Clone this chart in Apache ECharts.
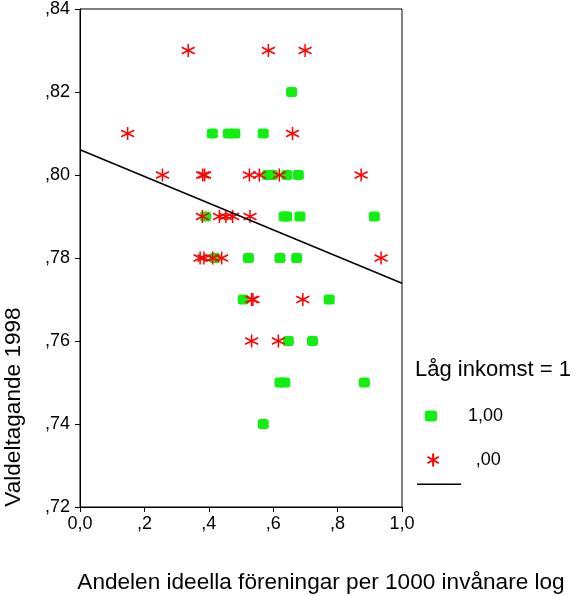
<!DOCTYPE html>
<html>
<head>
<meta charset="utf-8">
<script src="https://cdn.jsdelivr.net/npm/echarts@6/dist/echarts.min.js"></script>
<style>
html,body{margin:0;padding:0;background:#fff;}
#c{width:579px;height:596px;}
</style>
</head>
<body>
<div id="c"></div>
<script>
// ---- data ----
var xTickLabels = ['0,0', ',2', ',4', ',6', ',8', '1,0'];
var yTickLabels = [',72', ',74', ',76', ',78', ',80', ',82', ',84'];

// Låg inkomst = 1 (1,00)
var highGroup = [
  [0.657, 0.82],
  [0.411, 0.81], [0.461, 0.81], [0.481, 0.81], [0.569, 0.81],
  [0.582, 0.80], [0.598, 0.80], [0.642, 0.80], [0.678, 0.80],
  [0.390, 0.79], [0.634, 0.79], [0.642, 0.79], [0.683, 0.79], [0.914, 0.79],
  [0.419, 0.78], [0.523, 0.78], [0.621, 0.78], [0.673, 0.78],
  [0.507, 0.77], [0.774, 0.77],
  [0.647, 0.76], [0.722, 0.76],
  [0.621, 0.75], [0.636, 0.75], [0.883, 0.75],
  [0.569, 0.74]
];
// Låg inkomst = 0 (,00)
var lowGroup = [
  [0.336, 0.83], [0.585, 0.83], [0.699, 0.83],
  [0.148, 0.81], [0.660, 0.81],
  [0.256, 0.80], [0.381, 0.80], [0.387, 0.80], [0.526, 0.80], [0.557, 0.80], [0.619, 0.80], [0.873, 0.80],
  [0.380, 0.79], [0.433, 0.79], [0.453, 0.79], [0.474, 0.79], [0.528, 0.79],
  [0.373, 0.78], [0.385, 0.78], [0.412, 0.78], [0.440, 0.78], [0.935, 0.78],
  [0.533, 0.77], [0.537, 0.77], [0.692, 0.77],
  [0.533, 0.76], [0.616, 0.76]
];
// fit line (total)
var fitLine = [[0, 0.8061], [1, 0.7739]];

var FONT = "'Liberation Sans', Arial, Helvetica, sans-serif";
var asterisk = 'path://M0,0L0,20M-8.66,5L8.66,15M-8.66,15L8.66,5';

var chart = echarts.init(document.getElementById('c'), null, {renderer: 'canvas'});
var option = {
  animation: false,
  backgroundColor: '#fff',
  grid: {left: 80, right: 177, top: 7, bottom: 89, show: true, borderColor: '#000', borderWidth: 1, backgroundColor: 'transparent'},
  xAxis: {
    type: 'value', min: 0, max: 1, interval: 0.2,
    axisLine: {show: true, lineStyle: {color: '#000', width: 1}},
    axisTick: {show: true, inside: false, length: 5, lineStyle: {color: '#000'}},
    splitLine: {show: false},
    axisLabel: {
      color: '#000', fontFamily: FONT, fontSize: 18, margin: 8,
      formatter: function (v) { return xTickLabels[Math.round(v / 0.2)]; }
    }
  },
  yAxis: {
    type: 'value', min: 0.72, max: 0.84, interval: 0.02,
    axisLine: {show: true, lineStyle: {color: '#000', width: 1}},
    axisTick: {show: true, inside: false, length: 5, lineStyle: {color: '#000'}},
    splitLine: {show: false},
    axisLabel: {
      color: '#000', fontFamily: FONT, fontSize: 18, margin: 10,
      formatter: function (v) { return yTickLabels[Math.round((v - 0.72) / 0.02)]; }
    }
  },
  legend: [
    {
      data: ['1,00'], left: 425, top: 407, orient: 'vertical', padding: 0,
      itemWidth: 12, itemHeight: 11, itemGap: 0,
      textStyle: {color: '#000', fontFamily: FONT, fontSize: 18, padding: [10, 0, 0, 26]}
    },
    {
      data: [',00'], left: 425, top: 451, orient: 'vertical', padding: 0,
      itemWidth: 13, itemHeight: 13, itemGap: 0,
      textStyle: {color: '#000', fontFamily: FONT, fontSize: 18, padding: [10, 0, 0, 31]}
    },
    {
      data: [{name: 'Total', icon: 'rect'}], left: 417, top: 483.5, orient: 'vertical', padding: 0,
      itemWidth: 44, itemHeight: 1.5, itemGap: 0,
      itemStyle: {color: '#000'},
      formatter: function () { return ''; },
      textStyle: {color: '#000', fontFamily: FONT, fontSize: 18}
    }
  ],
  graphic: [
    {
      type: 'text', x: 415, y: 370,
      style: {text: 'Låg inkomst = 1', font: '22px ' + FONT, fill: '#000', textAlign: 'left', textVerticalAlign: 'middle'}
    },
    {
      type: 'text', x: 14, y: 407, rotation: Math.PI / 2,
      style: {text: 'Valdeltagande 1998', font: '22.6px ' + FONT, fill: '#000', textAlign: 'center', textVerticalAlign: 'middle'}
    },
    {
      type: 'text', x: 321, y: 583,
      style: {text: 'Andelen ideella föreningar per 1000 invånare log', font: '22.6px ' + FONT, fill: '#000', textAlign: 'center', textVerticalAlign: 'middle'}
    }
  ],
  series: [
    {
      name: '1,00', type: 'scatter', data: highGroup,
      symbol: 'roundRect', symbolSize: [11, 10],
      itemStyle: {color: '#11ee11', opacity: 1},
      z: 2
    },
    {
      name: ',00', type: 'scatter', data: lowGroup,
      symbol: asterisk, symbolSize: 13, symbolKeepAspect: false,
      itemStyle: {color: 'none', borderColor: '#ff0000', borderWidth: 1.5, opacity: 1},
      z: 3
    },
    {
      name: 'Total', type: 'line', data: fitLine,
      symbol: 'none', showSymbol: false,
      lineStyle: {color: '#000', width: 1.5},
      itemStyle: {color: '#000'},
      z: 4
    }
  ]
};
chart.setOption(option);
</script>
</body>
</html>
